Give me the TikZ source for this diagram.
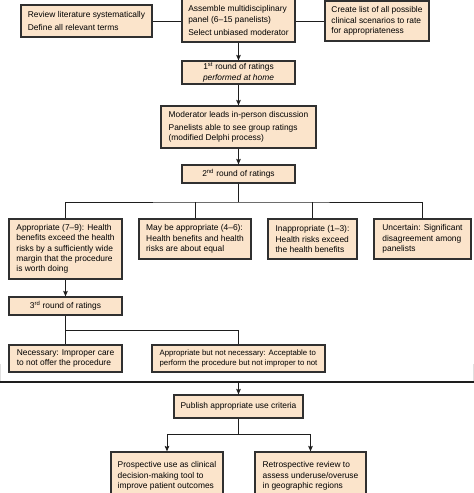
\documentclass[tikz,border=0pt]{standalone}
\usepackage{fontspec}
\setmainfont{Liberation Sans}
\usetikzlibrary{arrows.meta}
\definecolor{boxfill}{HTML}{FBE4CB}
\definecolor{boxline}{HTML}{303030}
\definecolor{conn}{HTML}{1E1E1E}
\tikzset{
  bx/.style={draw=boxline, line width=1.25pt, fill=boxfill, inner xsep=0pt, inner ysep=0pt,
    align=left, font=\fontsize{8.4}{10.3}\selectfont},
  bxc/.style={bx, align=center},
  link/.style={draw=conn, line width=0.95pt},
  arr/.style={link, -{Stealth[length=5.5pt,width=4.6pt,inset=1pt]}}
}
\begin{document}
\begin{tikzpicture}[x=1pt,y=-1pt]
\useasboundingbox (0,0) rectangle (474,493);
\clip (0,0) rectangle (474,493);
% top row
\node[bx, minimum width=131pt, minimum height=32pt] (rev) at (86.5,21)
  {Review literature systematically\\[3pt]Define all relevant terms};
\node[bx, minimum width=113pt, minimum height=43pt] (asm) at (238.5,20.5)
  {Assemble multidisciplinary\\panel (6–15 panelists)\\[3pt]Select unbiased moderator};
\node[bx, minimum width=104pt, minimum height=40pt] (crt) at (377,21)
  {Create list of all possible\\clinical scenarios to rate\\for appropriateness};
\node[bxc, minimum width=113pt, minimum height=23pt] (r1) at (238.5,72.5)
  {1\textsuperscript{st} round of ratings\\\textit{performed at home}};
\node[bx, minimum width=155pt, minimum height=42pt] (mod) at (238.5,127)
  {Moderator leads in-person discussion\\[3pt]Panelists able to see group ratings\\(modified Delphi process)};
\node[bxc, minimum width=113pt, minimum height=18pt] (r2) at (238.5,174)
  {2\textsuperscript{nd} round of ratings};
% rating categories
\node[bx, minimum width=113pt, minimum height=60pt] (app) at (65.5,249)
  {Appropriate (7–9): Health\\benefits exceed the health\\risks by a sufficiently wide\\margin that the procedure\\is worth doing};
\node[bx, minimum width=112pt, minimum height=40pt] (may) at (195,239)
  {May be appropriate (4–6):\\Health benefits and health\\risks are about equal};
\node[bx, minimum width=89pt, minimum height=40pt] (inap) at (312.5,239)
  {Inappropriate (1–3):\\Health risks exceed\\the health benefits};
\node[bx, minimum width=97pt, minimum height=40pt] (unc) at (422.5,239)
  {Uncertain: Significant\\disagreement among\\panelists};
\node[bxc, minimum width=113pt, minimum height=18pt] (r3) at (65.5,306)
  {3\textsuperscript{rd} round of ratings};
\node[bx, minimum width=113pt, minimum height=27pt] (nec) at (65.5,358.5)
  {Necessary: Improper care\\to not offer the procedure};
\node[bx, minimum width=173pt, minimum height=27pt, font=\fontsize{7.8}{10.3}\selectfont] (abn) at (238.5,358.5)
  {Appropriate but not necessary: Acceptable to\\perform the procedure but not improper to not};
% publication
\node[bxc, minimum width=129pt, minimum height=23pt] (pub) at (238.5,406.5)
  {Publish appropriate use criteria};
\node[bx, minimum width=112pt, minimum height=48pt] (pro) at (167,476)
  {Prospective use as clinical\\decision-making tool to\\improve patient outcomes};
\node[bx, minimum width=111pt, minimum height=48pt] (ret) at (310.5,476)
  {Retrospective review to\\assess underuse/overuse\\in geographic regions};
% coordinates
\coordinate (split2) at (238.5,202);
\coordinate (sepL) at (0,382);
\coordinate (sepR) at (474,382);
\coordinate (sepM) at (238.5,382);
\coordinate (split3) at (65.5,330);
\coordinate (splitP) at (238.5,434);
% connectors
\draw[link] (rev.east) -- (rev.east -| asm.west);
\draw[link] (asm.east |- crt.west) -- (crt.west);
\draw[arr] (asm.south) -- (r1.north);
\draw[arr] (r1.south) -- (mod.north);
\draw[arr] (mod.south) -- (r2.north);
\draw[link] (r2.south) -- (split2);
\draw[link] (app.north) |- (split2) -| (unc.north);
\draw[link] (may.north) -- (may.north |- split2);
\draw[link] (inap.north) -- (inap.north |- split2);
\draw[arr] (app.south) -- (r3.north);
\draw[link] (r3.south) -- (nec.north);
\draw[link] (split3) -| (abn.north);
% separator
\draw[draw=black!12, line width=0.8pt] (0.5,364) -- (0.5,381) (473.5,364) -- (473.5,381);
\draw[draw=conn, line width=1.3pt] (sepL) -- (sepR);
\draw[arr] (sepM) -- (pub.north);
\draw[link] (pub.south) -- (splitP);
\draw[arr] (splitP) -| (pro.north);
\draw[arr] (splitP) -| (ret.north);
\end{tikzpicture}
\end{document}
